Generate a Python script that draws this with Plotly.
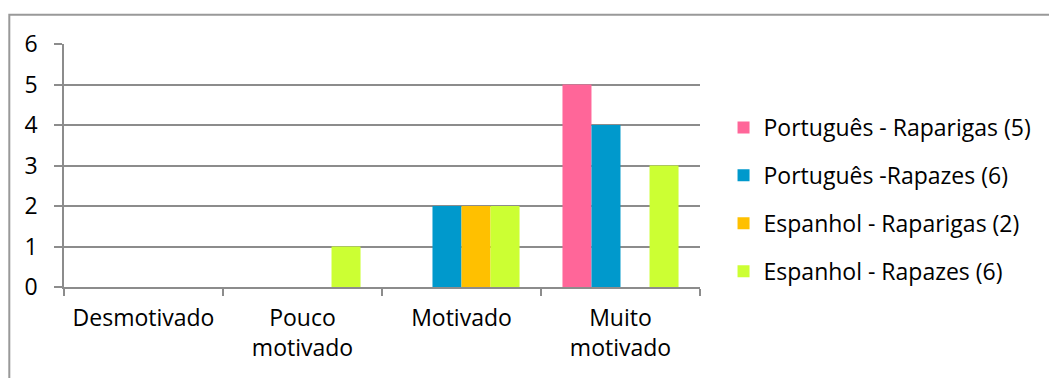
import plotly.graph_objects as go

categories = ["Desmotivado", "Pouco<br>motivado", "Motivado", "Muito<br>motivado"]
series_names = [
    "Português - Raparigas (5)",
    "Português -Rapazes (6)",
    "Espanhol - Raparigas (2)",
    "Espanhol - Rapazes (6)",
]
pt_raparigas = [0, 0, 0, 5]
pt_rapazes = [0, 0, 2, 4]
es_raparigas = [0, 0, 2, 0]
es_rapazes = [0, 1, 2, 3]
series_values = [pt_raparigas, pt_rapazes, es_raparigas, es_rapazes]
series_colors = ["#FF6699", "#0099CC", "#FFC000", "#CCFF33"]

FONT = "Open Sans"
GRID = "#8C8C8C"
FS = 23

fig = go.Figure()
for i, (name, vals, col) in enumerate(zip(series_names, series_values, series_colors)):
    fig.add_trace(go.Bar(
        x=categories, y=vals, name=name,
        marker=dict(color=col, line=dict(width=0)),
        legendgroup=f"g{i}",
    ))

fig.update_layout(
    width=1049, height=378,
    margin=dict(l=64, r=349, t=44, b=91),
    paper_bgcolor="white", plot_bgcolor="white",
    barmode="group", bargap=0.27, bargroupgap=0,
    font=dict(family=FONT, size=FS, color="black"),
    showlegend=True,
    legend=dict(
        x=1.037, y=0.36, xanchor="left", yanchor="middle",
        font=dict(family=FONT, size=FS, color="black"),
        tracegroupgap=15, traceorder="grouped",
        itemwidth=30,
    ),
    xaxis=dict(
        showline=True, linecolor=GRID, linewidth=1.5,
        ticks="outside", tickson="boundaries", ticklen=7,
        tickcolor=GRID, tickwidth=1.5, ticklabelstandoff=10,
        showgrid=False, tickfont=dict(size=FS),
    ),
    yaxis=dict(
        range=[0, 6], dtick=1, tick0=0,
        showline=True, linecolor=GRID, linewidth=1.5,
        ticks="outside", ticklen=8, tickcolor=GRID, tickwidth=1.5,
        ticklabelstandoff=12,
        showgrid=True, gridcolor=GRID, gridwidth=1.5,
        zeroline=False, tickfont=dict(size=FS),
    ),
    shapes=[dict(
        type="rect", xref="paper", yref="paper",
        x0=-0.086, x1=1.6, y0=-0.5, y1=1.12,
        line=dict(color="#999999", width=2), fillcolor="rgba(0,0,0,0)",
        layer="below",
    )],
)

fig.write_html("out.html")
